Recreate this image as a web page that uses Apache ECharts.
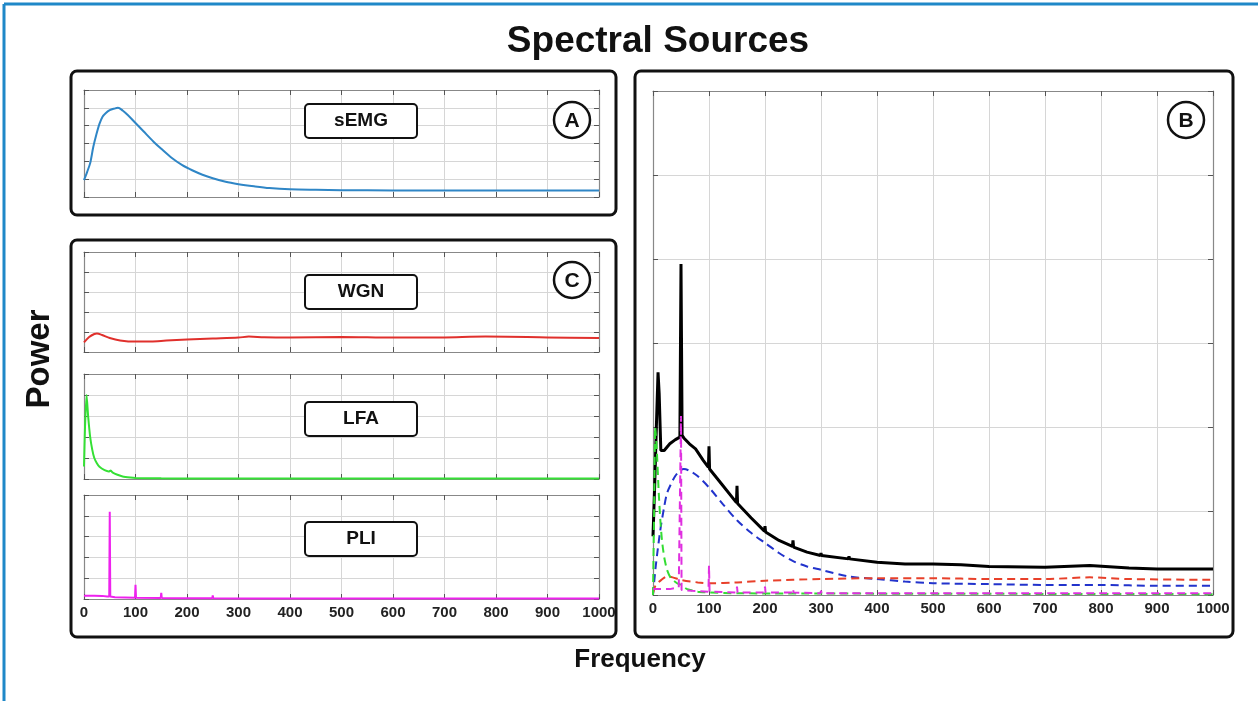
<!DOCTYPE html>
<html>
<head>
<meta charset="utf-8">
<script src="https://cdn.jsdelivr.net/npm/echarts@6/dist/echarts.min.js"></script>
<style>
  html, body { margin: 0; padding: 0; background: #fff; }
  #main { width: 1258px; height: 701px; }
</style>
</head>
<body>
<div id="main"></div>
<script>
// frequency axis ticks
const freqTicks = [0, 100, 200, 300, 400, 500, 600, 700, 800, 900, 1000]

// panel A: sEMG
const semgFreq = [0, 6, 12, 18, 24, 30, 36, 42, 50, 58, 66, 75, 85, 100, 115, 135, 150, 170, 190, 210, 230, 250, 275, 300, 330, 360, 400, 450, 500, 600, 700, 800, 900, 1000]
const semgPower = [0.95, 1.4, 1.9, 2.8, 3.5, 4.1, 4.5, 4.7, 4.87, 4.95, 5.0, 4.85, 4.6, 4.15, 3.7, 3.1, 2.7, 2.2, 1.8, 1.5, 1.25, 1.05, 0.85, 0.72, 0.6, 0.5, 0.43, 0.4, 0.38, 0.37, 0.36, 0.37, 0.36, 0.36]

// panel C: WGN, LFA, PLI
const wgnFreq = [0, 10, 20, 25, 35, 50, 70, 100, 130, 160, 200, 250, 300, 320, 350, 400, 500, 600, 700, 780, 900, 1000]
const wgnPower = [0.48, 0.75, 0.9, 0.92, 0.85, 0.7, 0.58, 0.52, 0.53, 0.57, 0.62, 0.67, 0.72, 0.77, 0.74, 0.73, 0.75, 0.72, 0.73, 0.77, 0.73, 0.7]

const lfaFreq = [0, 2, 5, 8, 12, 16, 20, 25, 30, 40, 48, 52, 56, 65, 75, 90, 100, 150, 200, 1000]
const lfaPower = [0.6, 2.5, 4.0, 3.0, 2.0, 1.4, 1.0, 0.75, 0.58, 0.42, 0.36, 0.4, 0.3, 0.2, 0.12, 0.07, 0.05, 0.03, 0.02, 0.02]

const pliFreq = [0, 20, 35, 45, 49, 50, 51, 60, 99, 100, 101, 149, 150, 151, 199, 200, 201, 249, 250, 251, 299, 300, 301, 349, 350, 351, 1000]
const pliPower = [0.16, 0.16, 0.15, 0.12, 0.12, 4.2, 0.12, 0.08, 0.06, 0.68, 0.06, 0.05, 0.29, 0.05, 0.04, 0.1, 0.04, 0.04, 0.17, 0.04, 0.03, 0.08, 0.03, 0.03, 0.07, 0.03, 0.03]

// panel B: total spectrum and components
const totalFreq = [0, 3, 6, 9, 11, 14, 20, 30, 40, 48, 50, 52, 55, 65, 76, 90, 99, 100, 101, 125, 149, 150, 151, 175, 199, 200, 201, 225, 249, 250, 251, 275, 299, 300, 301, 349, 350, 351, 400, 450, 500, 550, 600, 700, 780, 850, 900, 950, 1000]
const totalPower = [0.7, 1.3, 2.0, 2.65, 2.4, 1.72, 1.72, 1.8, 1.85, 1.88, 3.94, 1.9, 1.87, 1.8, 1.74, 1.6, 1.52, 1.77, 1.5, 1.3, 1.1, 1.3, 1.09, 0.92, 0.76, 0.82, 0.75, 0.65, 0.58, 0.65, 0.57, 0.51, 0.47, 0.5, 0.47, 0.43, 0.46, 0.43, 0.39, 0.37, 0.37, 0.36, 0.34, 0.33, 0.35, 0.32, 0.31, 0.31, 0.31]

const bSemgFreq = [0, 5, 13, 20, 25, 32, 40, 48, 55, 65, 79, 100, 125, 150, 175, 200, 225, 251, 275, 300, 350, 400, 450, 500, 600, 700, 800, 900, 1000]
const bSemgPower = [0, 0.35, 0.77, 1.05, 1.21, 1.32, 1.42, 1.48, 1.5, 1.48, 1.42, 1.28, 1.08, 0.89, 0.74, 0.62, 0.5, 0.4, 0.34, 0.3, 0.22, 0.19, 0.16, 0.14, 0.13, 0.12, 0.12, 0.11, 0.11]

const bWgnFreq = [0, 5, 15, 25, 35, 50, 80, 100, 150, 200, 300, 400, 500, 600, 700, 780, 850, 1000]
const bWgnPower = [0.02, 0.12, 0.18, 0.22, 0.21, 0.18, 0.15, 0.14, 0.15, 0.17, 0.19, 0.2, 0.2, 0.19, 0.19, 0.21, 0.19, 0.18]

const bLfaFreq = [0, 2, 4, 7, 10, 13, 16, 20, 25, 32, 43, 50, 61, 80, 100, 150, 1000]
const bLfaPower = [0, 1.0, 2.0, 1.7, 1.25, 0.9, 0.65, 0.45, 0.3, 0.2, 0.14, 0.12, 0.07, 0.04, 0.03, 0.02, 0.01]

const bPliFreq = [0, 30, 46, 49, 50, 51, 70, 99, 100, 101, 149, 150, 151, 199, 200, 201, 249, 250, 251, 299, 300, 301, 1000]
const bPliPower = [0.07, 0.07, 0.09, 0.1, 2.13, 0.06, 0.05, 0.04, 0.35, 0.04, 0.03, 0.1, 0.03, 0.03, 0.1, 0.03, 0.03, 0.07, 0.03, 0.02, 0.05, 0.02, 0.02]

const pairs = (xs, ys) => xs.map((x, i) => [x, ys[i]])

const chart = echarts.init(document.getElementById('main'))

const fontFamily = '"Liberation Sans", Arial, sans-serif'

// grids: A, WGN, LFA, PLI, B
const grids = [
  { left: 84, top: 90, width: 515, height: 107, ymax: 6, labels: false },
  { left: 84, top: 252, width: 515, height: 100, ymax: 5, labels: false },
  { left: 84, top: 374, width: 515, height: 105, ymax: 5, labels: false },
  { left: 84, top: 495, width: 515, height: 104, ymax: 5, labels: true },
  { left: 653, top: 91, width: 560, height: 504, ymax: 6, labels: true }
]

const xAxes = []
const yAxes = []
grids.forEach((g, i) => {
  const tick = { show: true, inside: true, length: 5, lineStyle: { color: '#555', width: 1 } }
  const line = { show: true, onZero: false, lineStyle: { color: '#888', width: 1.2 } }
  xAxes.push({
    type: 'value', gridIndex: i, min: 0, max: 1000, interval: 100, position: 'bottom',
    axisLine: line,
    axisTick: tick,
    axisLabel: {
      show: g.labels, color: '#222', fontWeight: 'bold', fontSize: 15,
      fontFamily: fontFamily, margin: 6,
      formatter: (v) => freqTicks.includes(v) ? String(v) : ''
    },
    splitLine: { show: true, lineStyle: { color: '#d6d6d6', width: 1 } }
  })
  xAxes.push({
    type: 'value', gridIndex: i, min: 0, max: 1000, interval: 100, position: 'top',
    axisLine: line, axisTick: tick, axisLabel: { show: false }, splitLine: { show: false }
  })
  yAxes.push({
    type: 'value', gridIndex: i, min: 0, max: g.ymax, interval: 1, position: 'left',
    axisLine: line, axisTick: tick, axisLabel: { show: false },
    splitLine: { show: true, lineStyle: { color: '#d6d6d6', width: 1 } }
  })
  yAxes.push({
    type: 'value', gridIndex: i, min: 0, max: g.ymax, interval: 1, position: 'right',
    axisLine: line, axisTick: tick, axisLabel: { show: false }, splitLine: { show: false }
  })
})

const lineSeries = (gi, data, color, width, dashed, smooth) => ({
  type: 'line',
  xAxisIndex: gi * 2,
  yAxisIndex: gi * 2,
  data: data,
  showSymbol: false,
  smooth: smooth,
  animation: false,
  lineStyle: { color: color, width: width, type: dashed ? [8, 5] : 'solid' },
  z: 3
})

const series = [
  lineSeries(0, pairs(semgFreq, semgPower), '#2f86c6', 2, false, 0.3),
  lineSeries(1, pairs(wgnFreq, wgnPower), '#e0302c', 2, false, 0.3),
  lineSeries(2, pairs(lfaFreq, lfaPower), '#35e035', 2, false, 0.2),
  lineSeries(3, pairs(pliFreq, pliPower), '#ee22ee', 2, false, false),
  lineSeries(4, pairs(totalFreq, totalPower), '#000000', 3, false, false),
  lineSeries(4, pairs(bSemgFreq, bSemgPower), '#2233cc', 2, true, 0.3),
  lineSeries(4, pairs(bWgnFreq, bWgnPower), '#e8402a', 2, true, 0.3),
  lineSeries(4, pairs(bLfaFreq, bLfaPower), '#33dd33', 2, true, 0.2),
  lineSeries(4, pairs(bPliFreq, bPliPower), '#e030e0', 2, true, false)
]

// panel frames, label boxes and circled letters
const frame = (x, y, w, h) => ({
  type: 'rect', z: 100, shape: { x: x, y: y, width: w, height: h, r: 6 },
  style: { fill: null, stroke: '#111', lineWidth: 3 }
})
const labelBox = (x, y, w, h, text) => ({
  type: 'group',
  children: [
    { type: 'rect', z: 100, shape: { x: x, y: y, width: w, height: h, r: 4 },
      style: { fill: '#fff', stroke: '#111', lineWidth: 2 } },
    { type: 'text', z: 101, x: x + w / 2, y: y + h / 2,
      style: { text: text, fill: '#111', font: 'bold 19px ' + fontFamily, textAlign: 'center', textVerticalAlign: 'middle' } }
  ]
})
const circled = (cx, cy, text) => ({
  type: 'group',
  children: [
    { type: 'circle', z: 100, shape: { cx: cx, cy: cy, r: 18 },
      style: { fill: '#fff', stroke: '#111', lineWidth: 2.5 } },
    { type: 'text', z: 101, x: cx, y: cy + 1,
      style: { text: text, fill: '#111', font: 'bold 21px ' + fontFamily, textAlign: 'center', textVerticalAlign: 'middle' } }
  ]
})

const graphics = [
  { type: 'line', z: 100, shape: { x1: 4, y1: 4, x2: 1258, y2: 4 }, style: { stroke: '#1f88c8', lineWidth: 3 } },
  { type: 'line', z: 100, shape: { x1: 4, y1: 4, x2: 4, y2: 701 }, style: { stroke: '#1f88c8', lineWidth: 3 } },
  frame(71, 71, 545, 144),
  frame(71, 240, 545, 397),
  frame(635, 71, 598, 566),
  labelBox(305, 104, 112, 34, 'sEMG'),
  labelBox(305, 275, 112, 34, 'WGN'),
  labelBox(305, 402, 112, 34, 'LFA'),
  labelBox(305, 522, 112, 34, 'PLI'),
  circled(572, 120, 'A'),
  circled(572, 280, 'C'),
  circled(1186, 120, 'B'),
  { type: 'text', z: 100, x: 40, y: 359, rotation: Math.PI / 2,
    style: { text: 'Power', fill: '#111', font: 'bold 33px ' + fontFamily, textAlign: 'center', textVerticalAlign: 'middle' } },
  { type: 'text', z: 100, x: 640, y: 660,
    style: { text: 'Frequency', fill: '#111', font: 'bold 26px ' + fontFamily, textAlign: 'center', textVerticalAlign: 'middle' } },
  { type: 'text', z: 100, x: 658, y: 42,
    style: { text: 'Spectral Sources', fill: '#111', font: 'bold 37px ' + fontFamily, textAlign: 'center', textVerticalAlign: 'middle' } }
]

chart.setOption({
  backgroundColor: '#fff',
  animation: false,
  grid: grids.map(g => ({ left: g.left, top: g.top, width: g.width, height: g.height, containLabel: false })),
  xAxis: xAxes,
  yAxis: yAxes,
  series: series,
  graphic: graphics
})

window.addEventListener('resize', () => chart.resize())
</script>
</body>
</html>
